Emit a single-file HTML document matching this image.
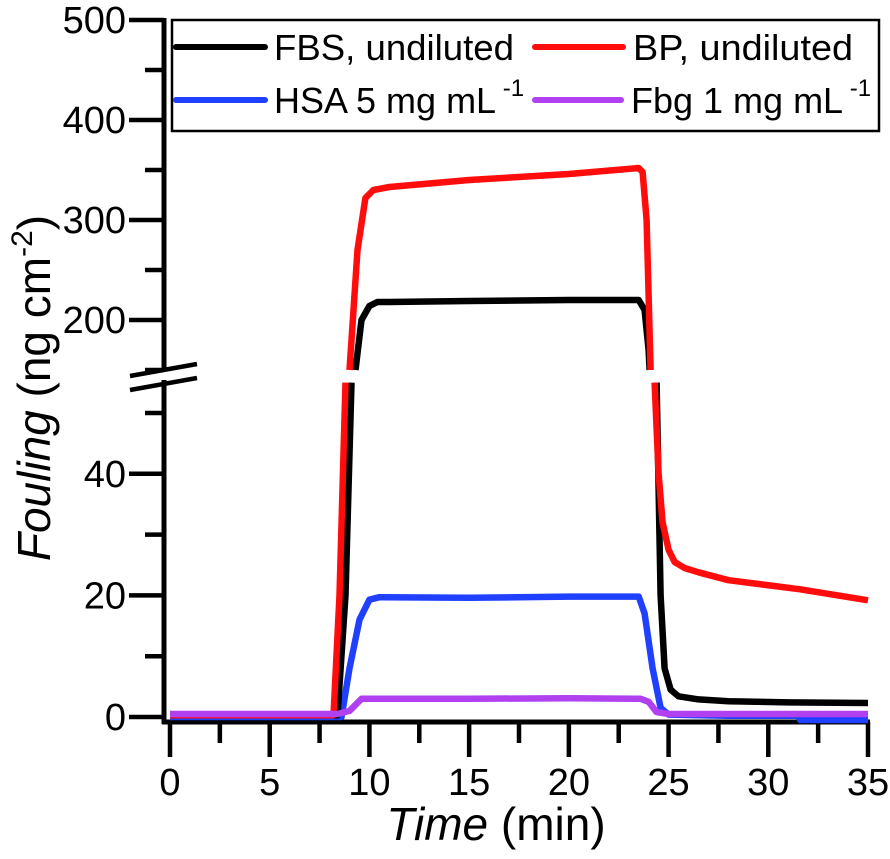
<!DOCTYPE html>
<html><head><meta charset="utf-8"><style>
html,body{margin:0;padding:0;background:#fff;}
svg{display:block;font-family:"Liberation Sans",Arial,sans-serif;}
</style></head><body>
<svg id="chart" width="890" height="859" viewBox="0 0 890 859">
<g id="axes"></g>
<g id="series"></g>
<g id="legend">
  <rect x="172" y="20" width="707" height="111" fill="#fff" stroke="#000" stroke-width="2.5"/>
  <line x1="176" y1="47" x2="265" y2="47" stroke="#000" stroke-width="6" stroke-linecap="round"/>
  <text x="274" y="60" font-size="36" textLength="240" lengthAdjust="spacingAndGlyphs">FBS, undiluted</text>
  <line x1="535" y1="47" x2="623" y2="47" stroke="#ff0d0d" stroke-width="6" stroke-linecap="round"/>
  <text x="633" y="60" font-size="36" textLength="220" lengthAdjust="spacingAndGlyphs">BP, undiluted</text>
  <line x1="176" y1="100" x2="265" y2="100" stroke="#2040ff" stroke-width="6" stroke-linecap="round"/>
  <text x="274" y="113" font-size="36">HSA 5 mg mL<tspan font-size="24" dy="-17"> -1</tspan></text>
  <line x1="535" y1="100" x2="621" y2="100" stroke="#b040f0" stroke-width="6" stroke-linecap="round"/>
  <text x="631" y="113" font-size="36">Fbg 1 mg mL<tspan font-size="24" dy="-17"> -1</tspan></text>
</g>
<text x="496" y="840" font-size="46" text-anchor="middle"><tspan font-style="italic">Time</tspan> (min)</text>
<text transform="translate(50,388) rotate(-90)" font-size="46" text-anchor="middle"><tspan font-style="italic">Fouling</tspan> (ng cm<tspan font-size="30" dy="-18">-2</tspan><tspan dy="18">)</tspan></text>
</svg>
<script>
const xTicks=[0,5,10,15,20,25,30,35];
const yTicksLow=[0,20,40];
const yTicksHigh=[200,300,400,500];
const fbsT=[0,4,8.4,8.8,9.1,9.3,9.6,10.0,10.4,11,15,20,23.5,23.8,24.0,24.2,24.4,24.6,24.8,25.1,25.5,26.5,28,31,35];
const fbsV=[0.3,0.3,0.3,20,55,150,200,214,218,218,219,220,220,210,170,90,55,20,8,4.5,3.4,2.9,2.6,2.4,2.3];
const bpT=[0,4,8.2,8.5,8.8,9.0,9.4,9.8,10.2,11,15,20,23.5,23.7,23.9,24.1,24.3,24.5,24.7,25.0,25.3,25.8,26.5,28,31.6,35];
const bpV=[0.3,0.3,0.3,20,55,150,270,322,330,333,340,346,352,348,300,150,55,40,32,27.5,25.5,24.5,23.8,22.5,21,19.2];
const hsaT=[0,8.6,9.0,9.5,10.0,10.5,15,20,23.5,23.8,24.2,24.6,25.0,28,31.5,31.6,35];
const hsaV=[0,0,8,16,19.3,19.7,19.6,19.8,19.8,17,8,1.5,0.4,0.2,0.2,-0.5,-0.5];
const fbgT=[0,8.4,9.0,9.6,15,20,23.6,24.0,24.4,25,35];
const fbgV=[0.5,0.5,1.0,3.0,3.0,3.1,3.0,2.5,0.8,0.5,0.5];

const NS="http://www.w3.org/2000/svg";
const X0=170,X1=868;
function xs(t){return X0+(X1-X0)*t/35;}
function ylow(v){return 717-v*6.08;}
function yhigh(v){return 20+(500-v);}
const LOWMAX=55,HIGHMIN=150;
function mk(tag,attrs,parent){const e=document.createElementNS(NS,tag);for(const k in attrs)e.setAttribute(k,attrs[k]);parent.appendChild(e);return e;}
const axes=document.getElementById('axes');
let e;
e=mk('line',{x1:164,y1:18,x2:164,y2:368,stroke:'#000','stroke-width':5},axes);


e=mk('line',{x1:164,y1:380,x2:164,y2:724,stroke:'#000','stroke-width':5},axes);


e=mk('line',{x1:162,y1:722,x2:870,y2:722,stroke:'#000','stroke-width':5},axes);


for(const dy of [0,14]){
 e=mk('line',{x1:130,y1:376+dy,x2:197,y2:364+dy,stroke:'#000','stroke-width':4.5},axes);
 
 
}
for(let t=0;t<=35;t+=2.5){
 const major=t%5===0;
 e=mk('line',{x1:xs(t),y1:722,x2:xs(t),y2:major?757:743,stroke:'#000','stroke-width':4.5},axes);
 
 
}
xTicks.forEach(t=>{
 e=mk('text',{x:xs(t),y:795,'font-size':38,'text-anchor':'middle'},axes);
 e.textContent=t;
 
 
});
for(let v=0;v<=50;v+=10){
 const major=v%20===0;
 e=mk('line',{x1:major?129:145,y1:ylow(v),x2:164,y2:ylow(v),stroke:'#000','stroke-width':4.5},axes);
 
 
}
for(let v=150;v<=500;v+=50){
 const major=v%100===0;
 e=mk('line',{x1:major?129:145,y1:yhigh(v),x2:164,y2:yhigh(v),stroke:'#000','stroke-width':4.5},axes);
 
 
}
yTicksLow.forEach(v=>{
 e=mk('text',{x:126,y:ylow(v)+13,'font-size':38,'text-anchor':'end'},axes);
 e.textContent=v;
 
 
});
yTicksHigh.forEach(v=>{
 e=mk('text',{x:126,y:yhigh(v)+13,'font-size':38,'text-anchor':'end'},axes);
 e.textContent=v;
 
 
});
const seriesG=document.getElementById('series');
function interp(t0,v0,t1,v1,v){return t0+(t1-t0)*(v-v0)/(v1-v0);}
function draw(T,V,color,name){
 let segs=[],cur=[];
 for(let i=0;i<T.length;i++){
  const v=V[i],r=v<=LOWMAX?'L':(v>=HIGHMIN?'H':'M');
  if(i>0){
   const pv=V[i-1],pt=T[i-1];
   if(pv<=LOWMAX && v>LOWMAX){cur.push([xs(interp(pt,pv,T[i],v,LOWMAX)),ylow(LOWMAX)]);segs.push(cur);cur=[];}
   if(pv>=HIGHMIN && v<HIGHMIN){cur.push([xs(interp(pt,pv,T[i],v,HIGHMIN)),yhigh(HIGHMIN)]);segs.push(cur);cur=[];}
   if(pv<HIGHMIN && v>=HIGHMIN){cur=[[xs(interp(pt,pv,T[i],v,HIGHMIN)),yhigh(HIGHMIN)]];}
   if(pv>LOWMAX && v<=LOWMAX){cur=[[xs(interp(pt,pv,T[i],v,LOWMAX)),ylow(LOWMAX)]];}
  }
  if(r==='L')cur.push([xs(T[i]),ylow(v)]);
  else if(r==='H')cur.push([xs(T[i]),yhigh(v)]);
 }
 if(cur.length)segs.push(cur);
 segs.forEach(s=>{
  if(s.length<2)return;
  const p=mk('polyline',{points:s.map(q=>q[0].toFixed(1)+','+q[1].toFixed(1)).join(' '),fill:'none',stroke:color,'stroke-width':6.5,'stroke-linejoin':'round'},seriesG);
  
  
 });
}
draw(hsaT,hsaV,'#2040ff','series-hsa');
draw(fbsT,fbsV,'#000','series-fbs');
draw(bpT,bpV,'#ff0d0d','series-bp');
draw(fbgT,fbgV,'#b040f0','series-fbg');
</script>
</body></html>
